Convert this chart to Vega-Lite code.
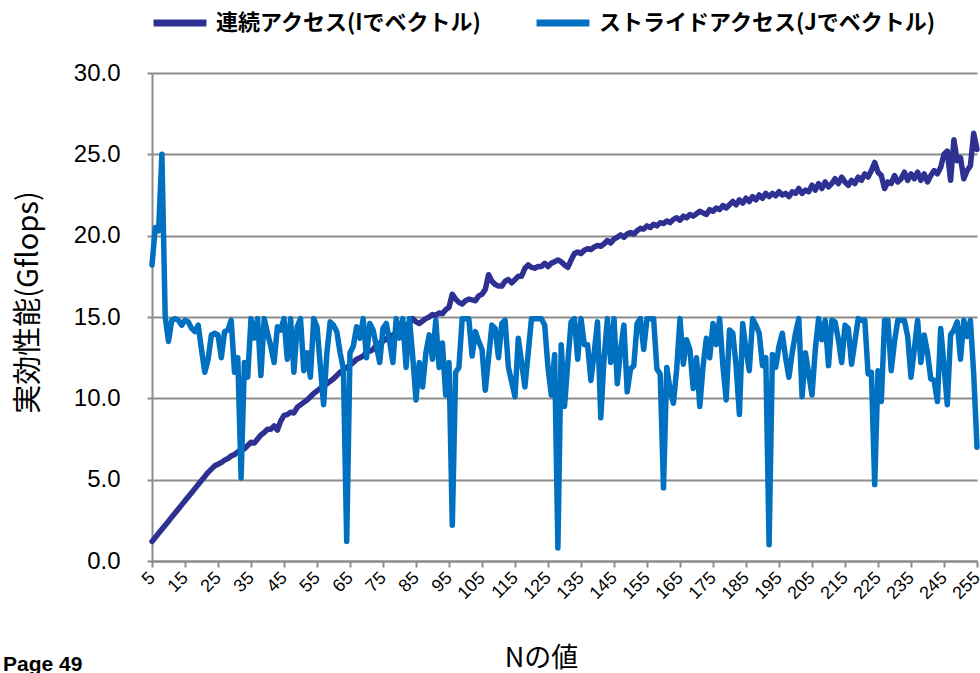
{
  "$schema": "https://vega.github.io/schema/vega-lite/v6.json",
  "width": 825,
  "height": 488,
  "autosize": {"type": "none"},
  "padding": {"left": 152, "top": 73, "right": 3, "bottom": 112},
  "background": "white",
  "config": {"view": {"stroke": null}},
  "title": {"text": "Page 49", "orient": "bottom", "anchor": "start", "frame": "group", "dx": -149, "dy": -17, "baseline": "top", "font": "Liberation Sans", "fontWeight": "bold", "fontSize": 21, "color": "#000000", "offset": 0},
  "data": {"values": [
{"N":5,"c":1.2,"s":18.2},{"N":6,"c":1.45,"s":20.5},{"N":7,"c":1.7,"s":20.3},{"N":8,"c":1.95,"s":25.0},{"N":9,"c":2.2,"s":15.0},{"N":10,"c":2.45,"s":13.5},{"N":11,"c":2.7,"s":14.8},{"N":12,"c":2.95,"s":14.9},{"N":13,"c":3.2,"s":14.8},{"N":14,"c":3.45,"s":14.5},
{"N":15,"c":3.7,"s":14.8},{"N":16,"c":3.95,"s":14.7},{"N":17,"c":4.2,"s":14.3},{"N":18,"c":4.45,"s":14.1},{"N":19,"c":4.7,"s":14.5},{"N":20,"c":4.95,"s":13.0},{"N":21,"c":5.2,"s":11.6},{"N":22,"c":5.45,"s":12.4},{"N":23,"c":5.65,"s":13.9},{"N":24,"c":5.85,"s":14.0},
{"N":25,"c":5.95,"s":13.9},{"N":26,"c":6.05,"s":12.5},{"N":27,"c":6.2,"s":14.1},{"N":28,"c":6.3,"s":14.2},{"N":29,"c":6.45,"s":14.8},{"N":30,"c":6.55,"s":11.6},{"N":31,"c":6.7,"s":12.5},{"N":32,"c":6.85,"s":5.1},{"N":33,"c":6.9,"s":12.2},{"N":34,"c":7.1,"s":11.3},
{"N":35,"c":7.3,"s":14.9},{"N":36,"c":7.25,"s":13.7},{"N":37,"c":7.5,"s":14.9},{"N":38,"c":7.75,"s":11.4},{"N":39,"c":7.9,"s":14.9},{"N":40,"c":8.1,"s":14.0},{"N":41,"c":8.1,"s":13.2},{"N":42,"c":8.3,"s":12.2},{"N":43,"c":8.05,"s":14.4},{"N":44,"c":8.6,"s":14.2},
{"N":45,"c":8.95,"s":14.9},{"N":46,"c":9.0,"s":12.4},{"N":47,"c":9.15,"s":14.9},{"N":48,"c":9.1,"s":11.6},{"N":49,"c":9.45,"s":14.4},{"N":50,"c":9.6,"s":14.9},{"N":51,"c":9.75,"s":11.7},{"N":52,"c":9.9,"s":12.8},{"N":53,"c":10.1,"s":11.3},{"N":54,"c":10.3,"s":14.9},
{"N":55,"c":10.45,"s":14.4},{"N":56,"c":10.6,"s":12.0},{"N":57,"c":10.75,"s":9.6},{"N":58,"c":10.9,"s":12.8},{"N":59,"c":11.05,"s":14.7},{"N":60,"c":11.2,"s":14.5},{"N":61,"c":11.4,"s":14.1},{"N":62,"c":11.6,"s":12.8},{"N":63,"c":11.75,"s":11.8},{"N":64,"c":11.9,"s":1.2},
{"N":65,"c":12.05,"s":12.8},{"N":66,"c":12.2,"s":13.2},{"N":67,"c":12.4,"s":14.4},{"N":68,"c":12.5,"s":13.7},{"N":69,"c":12.6,"s":14.9},{"N":70,"c":12.85,"s":12.5},{"N":71,"c":12.9,"s":14.6},{"N":72,"c":13.0,"s":14.2},{"N":73,"c":13.3,"s":13.2},{"N":74,"c":13.4,"s":12.2},
{"N":75,"c":13.5,"s":14.3},{"N":76,"c":13.65,"s":14.6},{"N":77,"c":13.8,"s":13.5},{"N":78,"c":13.9,"s":12.2},{"N":79,"c":14.0,"s":14.9},{"N":80,"c":14.2,"s":13.7},{"N":81,"c":14.3,"s":14.9},{"N":82,"c":14.5,"s":11.9},{"N":83,"c":14.6,"s":14.9},{"N":84,"c":14.9,"s":12.6},
{"N":85,"c":14.7,"s":9.9},{"N":86,"c":14.6,"s":12.2},{"N":87,"c":14.75,"s":10.7},{"N":88,"c":14.9,"s":12.8},{"N":89,"c":15.0,"s":13.9},{"N":90,"c":15.15,"s":12.4},{"N":91,"c":15.1,"s":14.8},{"N":92,"c":15.25,"s":11.9},{"N":93,"c":15.2,"s":13.4},{"N":94,"c":15.45,"s":10.2},
{"N":95,"c":15.6,"s":12.2},{"N":96,"c":16.4,"s":2.2},{"N":97,"c":16.1,"s":11.6},{"N":98,"c":15.9,"s":11.9},{"N":99,"c":15.8,"s":14.9},{"N":100,"c":16.0,"s":14.9},{"N":101,"c":16.1,"s":14.9},{"N":102,"c":16.05,"s":12.6},{"N":103,"c":16.0,"s":14.1},{"N":104,"c":16.3,"s":13.5},
{"N":105,"c":16.4,"s":13.0},{"N":106,"c":16.7,"s":10.5},{"N":107,"c":17.6,"s":12.5},{"N":108,"c":17.2,"s":14.5},{"N":109,"c":17.0,"s":14.3},{"N":110,"c":16.9,"s":12.5},{"N":111,"c":16.9,"s":14.6},{"N":112,"c":17.2,"s":14.8},{"N":113,"c":17.3,"s":11.9},{"N":114,"c":17.1,"s":11.0},
{"N":115,"c":17.3,"s":10.1},{"N":116,"c":17.5,"s":13.7},{"N":117,"c":17.5,"s":12.2},{"N":118,"c":18.0,"s":10.7},{"N":119,"c":18.2,"s":12.8},{"N":120,"c":18.05,"s":14.9},{"N":121,"c":18.0,"s":14.9},{"N":122,"c":18.1,"s":14.9},{"N":123,"c":18.1,"s":14.9},{"N":124,"c":18.3,"s":14.5},
{"N":125,"c":18.1,"s":11.9},{"N":126,"c":18.3,"s":10.2},{"N":127,"c":18.4,"s":12.7},{"N":128,"c":18.5,"s":0.8},{"N":129,"c":18.4,"s":13.3},{"N":130,"c":18.2,"s":9.5},{"N":131,"c":18.05,"s":12.2},{"N":132,"c":18.5,"s":14.7},{"N":133,"c":18.9,"s":14.9},{"N":134,"c":19.0,"s":12.4},
{"N":135,"c":18.9,"s":14.9},{"N":136,"c":19.1,"s":13.3},{"N":137,"c":19.2,"s":13.3},{"N":138,"c":19.15,"s":11.1},{"N":139,"c":19.3,"s":12.8},{"N":140,"c":19.4,"s":14.7},{"N":141,"c":19.35,"s":8.8},{"N":142,"c":19.5,"s":12.5},{"N":143,"c":19.7,"s":14.9},{"N":144,"c":19.55,"s":12.2},
{"N":145,"c":19.8,"s":14.9},{"N":146,"c":19.9,"s":10.9},{"N":147,"c":20.05,"s":13.0},{"N":148,"c":19.9,"s":14.5},{"N":149,"c":20.1,"s":10.4},{"N":150,"c":20.2,"s":11.8},{"N":151,"c":20.1,"s":12.0},{"N":152,"c":20.3,"s":14.6},{"N":153,"c":20.45,"s":14.9},{"N":154,"c":20.4,"s":13.0},
{"N":155,"c":20.6,"s":14.9},{"N":156,"c":20.5,"s":14.9},{"N":157,"c":20.7,"s":14.9},{"N":158,"c":20.6,"s":11.8},{"N":159,"c":20.8,"s":11.5},{"N":160,"c":20.75,"s":4.5},{"N":161,"c":20.9,"s":11.9},{"N":162,"c":20.8,"s":10.5},{"N":163,"c":21.0,"s":9.7},{"N":164,"c":21.1,"s":11.8},
{"N":165,"c":20.95,"s":14.9},{"N":166,"c":21.2,"s":12.1},{"N":167,"c":21.1,"s":13.6},{"N":168,"c":21.3,"s":13.0},{"N":169,"c":21.2,"s":10.6},{"N":170,"c":21.35,"s":12.5},{"N":171,"c":21.5,"s":9.5},{"N":172,"c":21.4,"s":12.0},{"N":173,"c":21.3,"s":13.7},{"N":174,"c":21.6,"s":12.5},
{"N":175,"c":21.5,"s":14.6},{"N":176,"c":21.7,"s":13.3},{"N":177,"c":21.6,"s":14.9},{"N":178,"c":21.85,"s":12.0},{"N":179,"c":21.7,"s":9.9},{"N":180,"c":21.9,"s":14.2},{"N":181,"c":22.1,"s":14.0},{"N":182,"c":21.9,"s":12.0},{"N":183,"c":22.2,"s":9.0},{"N":184,"c":22.0,"s":14.6},
{"N":185,"c":22.3,"s":13.0},{"N":186,"c":22.1,"s":11.7},{"N":187,"c":22.4,"s":14.9},{"N":188,"c":22.2,"s":14.5},{"N":189,"c":22.5,"s":14.0},{"N":190,"c":22.3,"s":12.0},{"N":191,"c":22.6,"s":12.5},{"N":192,"c":22.4,"s":1.0},{"N":193,"c":22.6,"s":12.7},{"N":194,"c":22.45,"s":11.9},
{"N":195,"c":22.7,"s":13.2},{"N":196,"c":22.5,"s":14.0},{"N":197,"c":22.6,"s":12.5},{"N":198,"c":22.4,"s":11.3},{"N":199,"c":22.7,"s":12.8},{"N":200,"c":22.6,"s":14.0},{"N":201,"c":22.9,"s":14.9},{"N":202,"c":22.6,"s":10.1},{"N":203,"c":22.8,"s":12.8},{"N":204,"c":22.7,"s":11.5},
{"N":205,"c":23.1,"s":10.2},{"N":206,"c":22.8,"s":13.0},{"N":207,"c":23.2,"s":14.9},{"N":208,"c":22.9,"s":13.6},{"N":209,"c":23.3,"s":14.8},{"N":210,"c":23.0,"s":12.0},{"N":211,"c":23.2,"s":14.8},{"N":212,"c":23.5,"s":14.7},{"N":213,"c":23.2,"s":13.6},{"N":214,"c":23.6,"s":12.2},
{"N":215,"c":23.3,"s":14.5},{"N":216,"c":23.1,"s":14.3},{"N":217,"c":23.4,"s":12.1},{"N":218,"c":23.2,"s":13.5},{"N":219,"c":23.6,"s":14.9},{"N":220,"c":23.4,"s":14.8},{"N":221,"c":23.8,"s":14.8},{"N":222,"c":23.6,"s":11.5},{"N":223,"c":24.0,"s":11.6},{"N":224,"c":24.5,"s":4.7},
{"N":225,"c":23.9,"s":11.7},{"N":226,"c":23.7,"s":9.8},{"N":227,"c":22.9,"s":14.8},{"N":228,"c":23.3,"s":14.8},{"N":229,"c":23.2,"s":11.7},{"N":230,"c":23.7,"s":13.5},{"N":231,"c":23.3,"s":14.8},{"N":232,"c":23.5,"s":14.8},{"N":233,"c":23.9,"s":14.8},{"N":234,"c":23.4,"s":13.8},
{"N":235,"c":23.8,"s":11.3},{"N":236,"c":23.5,"s":13.0},{"N":237,"c":23.9,"s":14.8},{"N":238,"c":23.4,"s":12.2},{"N":239,"c":23.8,"s":13.9},{"N":240,"c":23.3,"s":12.8},{"N":241,"c":23.7,"s":11.2},{"N":242,"c":24.0,"s":11.1},{"N":243,"c":23.8,"s":9.8},{"N":244,"c":24.2,"s":14.3},
{"N":245,"c":25.0,"s":12.0},{"N":246,"c":25.2,"s":9.6},{"N":247,"c":23.4,"s":13.9},{"N":248,"c":25.9,"s":14.2},{"N":249,"c":24.6,"s":14.7},{"N":250,"c":24.8,"s":12.4},{"N":251,"c":23.5,"s":14.8},{"N":252,"c":24.0,"s":13.8},{"N":253,"c":24.3,"s":14.8},{"N":254,"c":26.3,"s":11.5},{"N":255,"c":25.3,"s":7.0}
  ]},
  "transform": [{"fold": ["c", "s"], "as": ["series", "v"]}],
  "encoding": {
    "x": {"field": "N", "type": "quantitative",
      "scale": {"domain": [5, 255], "nice": false, "zero": false},
      "axis": {"values": [5,15,25,35,45,55,65,75,85,95,105,115,125,135,145,155,165,175,185,195,205,215,225,235,245,255],
        "title": "Nの値", "titleFont": "Noto Sans CJK JP", "titleFontSize": 27, "titleFontWeight": "normal", "titleColor": "#000000",
        "titleX": 389, "titleY": 97, "titleBaseline": "middle",
        "labelAngle": -45, "labelAlign": "right", "labelBaseline": "middle", "labelFont": "Liberation Sans", "labelFontSize": 18, "labelColor": "#000000", "labelPadding": 8, "labelOverlap": false, "labelFlush": false,
        "grid": false, "domainColor": "#8c8c8c", "domainWidth": 2, "tickColor": "#8c8c8c", "tickWidth": 2, "tickSize": 6}},
    "y": {"field": "v", "type": "quantitative",
      "scale": {"domain": [0, 30], "nice": false},
      "axis": {"values": [0,5,10,15,20,25,30], "format": ".1f",
        "title": "実効性能(Gflops)", "titleFont": "Noto Sans CJK JP", "titleFontSize": 29, "titleFontWeight": "normal", "titleColor": "#000000",
        "titleX": -124, "titleY": 229, "titleAngle": -90, "titleBaseline": "middle", "titleAlign": "center",
        "labelFont": "Liberation Sans", "labelFontSize": 24, "labelColor": "#000000", "labelPadding": 27,
        "grid": true, "gridColor": "#8c8c8c", "gridWidth": 2, "domainColor": "#8c8c8c", "domainWidth": 2, "tickColor": "#8c8c8c", "tickWidth": 2, "tickSize": 5}},
    "color": {"field": "series", "type": "nominal",
      "scale": {"domain": ["c", "s"], "range": ["#2e3192", "#0070c0"]},
      "legend": {"title": null, "orient": "none", "direction": "horizontal", "legendX": -2, "legendY": -80,
        "labelExpr": "datum.value == 'c' ? '連続アクセス(Iでベクトル)' : 'ストライドアクセス(Jでベクトル)'",
        "labelFont": "Noto Sans CJK JP", "labelFontSize": 22, "labelFontWeight": "bold", "labelColor": "#000000", "labelLimit": 500, "labelOffset": 6,
        "symbolType": "stroke", "symbolSize": 2800, "symbolStrokeWidth": 7, "columnPadding": 40}}
  },
  "layer": [
    {"transform": [{"filter": "datum.series == 'c'"}], "mark": {"type": "line", "strokeWidth": 5.5, "strokeJoin": "round", "strokeCap": "round"}},
    {"transform": [{"filter": "datum.series == 's'"}], "mark": {"type": "line", "strokeWidth": 5.5, "strokeJoin": "round", "strokeCap": "round"}}
  ]
}
